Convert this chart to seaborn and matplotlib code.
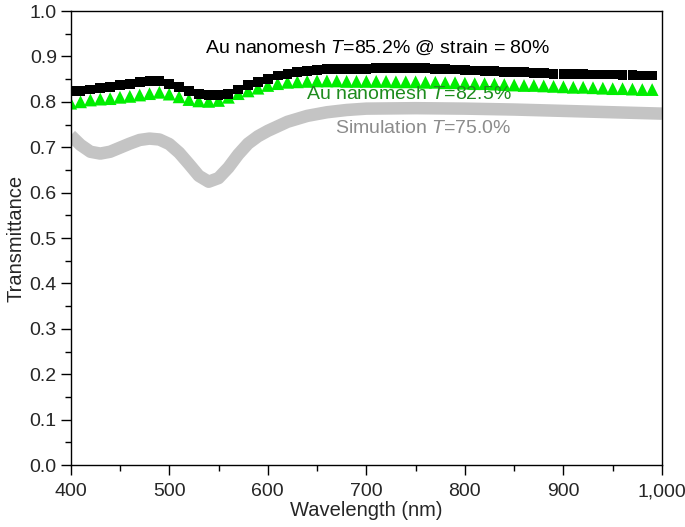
import numpy as np
import pandas as pd
import seaborn as sns
import matplotlib.pyplot as plt
from matplotlib.ticker import MultipleLocator, FuncFormatter

# Measured data, Au nanomesh at 80% strain (black squares)
wl_meas = list(range(400, 1000, 10))
t_strain = [0.824, 0.824, 0.827, 0.831, 0.833, 0.837, 0.839, 0.843, 0.846, 0.846,
            0.840, 0.833, 0.824, 0.817, 0.815, 0.815, 0.818, 0.827, 0.837, 0.844,
            0.851, 0.858, 0.862, 0.865, 0.868, 0.870, 0.872, 0.873, 0.873, 0.873,
            0.873, 0.874, 0.874, 0.874, 0.875, 0.875, 0.874, 0.873, 0.872, 0.871,
            0.870, 0.869, 0.868, 0.867, 0.866, 0.866, 0.865, 0.864, 0.863, 0.862,
            0.862, 0.861, 0.861, 0.860, 0.860, 0.860, 0.859, 0.859, 0.858, 0.858]

# Au nanomesh unstrained (green triangles)
t_mesh = [0.797, 0.800, 0.804, 0.806, 0.807, 0.810, 0.812, 0.815, 0.818, 0.821,
          0.817, 0.811, 0.805, 0.802, 0.801, 0.803, 0.810, 0.818, 0.824, 0.830,
          0.836, 0.840, 0.843, 0.844, 0.845, 0.846, 0.846, 0.846, 0.845, 0.845,
          0.845, 0.845, 0.845, 0.844, 0.844, 0.844, 0.843, 0.843, 0.842, 0.842,
          0.841, 0.840, 0.840, 0.839, 0.838, 0.837, 0.836, 0.836, 0.835, 0.834,
          0.833, 0.832, 0.832, 0.831, 0.830, 0.829, 0.829, 0.828, 0.827, 0.827]

# Simulation (grey band)
wl_sim = [400, 410, 420, 430, 440, 450, 460, 470, 480, 490, 500, 510, 520, 530,
          540, 550, 560, 570, 580, 590, 600, 620, 640, 660, 680, 700, 750, 800,
          850, 900, 950, 1000]
t_sim = [0.726, 0.705, 0.690, 0.686, 0.690, 0.699, 0.708, 0.716, 0.719, 0.717,
         0.707, 0.688, 0.663, 0.637, 0.624, 0.632, 0.655, 0.684, 0.708, 0.724,
         0.736, 0.756, 0.769, 0.777, 0.782, 0.785, 0.786, 0.785, 0.783, 0.780,
         0.777, 0.774]

meas = pd.DataFrame({'wl': wl_meas, 'strain': t_strain, 'mesh': t_mesh})
sim = pd.DataFrame({'wl': wl_sim, 'T': t_sim})

sns.set_style('white')
plt.rcParams['font.family'] = ['Liberation Sans', 'DejaVu Sans']
plt.rcParams['mathtext.fontset'] = 'custom'
plt.rcParams['mathtext.rm'] = 'Liberation Sans'
plt.rcParams['mathtext.it'] = 'Liberation Sans:italic'

fig = plt.figure(figsize=(6.85, 5.27), dpi=100)
ax = fig.add_axes([0.1032, 0.1176, 0.8632, 0.8615])

sns.lineplot(x='wl', y='T', data=sim, ax=ax, color='#c4c4c4', lw=9,
             solid_capstyle='butt', zorder=1)
sns.scatterplot(x='wl', y='mesh', data=meas, ax=ax, marker='^', s=85,
                color='#00ee00', edgecolor='none', zorder=2)
sns.scatterplot(x='wl', y='strain', data=meas, ax=ax, marker='s', s=50,
                color='black', edgecolor='none', zorder=3)

ax.set_xlim(400, 1000)
ax.set_ylim(0, 1.0)
ax.xaxis.set_major_locator(MultipleLocator(100))
ax.xaxis.set_minor_locator(MultipleLocator(50))
ax.yaxis.set_major_locator(MultipleLocator(0.1))
ax.yaxis.set_minor_locator(MultipleLocator(0.05))
ax.xaxis.set_major_formatter(FuncFormatter(lambda v, p: f'{int(v):,}'))
ax.yaxis.set_major_formatter(FuncFormatter(lambda v, p: f'{v:.1f}'))
ax.tick_params(which='both', direction='out', bottom=True, left=True,
               top=False, right=False, labelsize=14, width=1, color='black')
ax.tick_params(which='major', length=7, pad=3)
ax.tick_params(axis='x', which='major', pad=6)
ax.tick_params(which='minor', length=4)
for s in ax.spines.values():
    s.set_color('black')
    s.set_linewidth(1)

ax.set_xlabel('Wavelength (nm)', fontsize=14.5, labelpad=1)
ax.set_ylabel('Transmittance', fontsize=14.5, labelpad=3)

ax.text(0.227, 0.918, r'Au nanomesh $\mathit{T}$=85.2% @ strain = 80%',
        transform=ax.transAxes, fontsize=14, color='black',
        ha='left', va='center')
ax.text(0.746, 0.816, r'Au nanomesh $\mathit{T}$=82.5%',
        transform=ax.transAxes, fontsize=14, color='#1e8c1e',
        ha='right', va='center')
ax.text(0.746, 0.741, r'Simulation $\mathit{T}$=75.0%',
        transform=ax.transAxes, fontsize=14, color='#8c8c8c',
        ha='right', va='center')

fig.savefig('out.png', dpi=100)
